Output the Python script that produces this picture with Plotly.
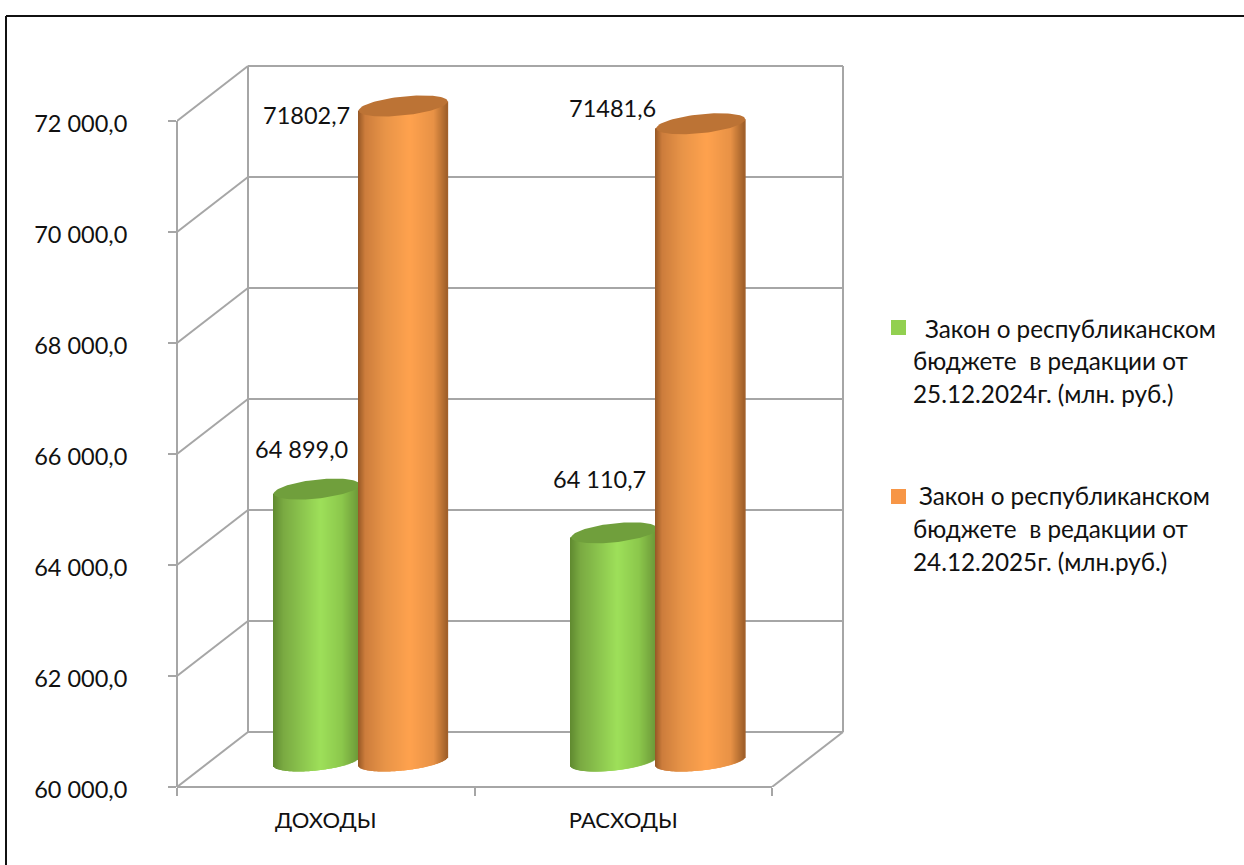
import numpy as np
import plotly.graph_objects as go

categories = ["ДОХОДЫ", "РАСХОДЫ"]
values_2024 = [64899.0, 64110.7]
values_2025 = [71802.7, 71481.6]
labels_2024 = ["64 899,0", "64 110,7"]
labels_2025 = ["71802,7", "71481,6"]
y_ticks = [60000, 62000, 64000, 66000, 68000, 70000, 72000]
y_tick_labels = ["60 000,0", "62 000,0", "64 000,0", "66 000,0", "68 000,0", "70 000,0", "72 000,0"]
legend_2024 = ["Закон о республиканском", "бюджете  в редакции от", "25.12.2024г. (млн. руб.)"]
legend_2025 = ["Закон о республиканском", "бюджете  в редакции от", "24.12.2025г. (млн.руб.)"]

FONT = "Lato, 'Open Sans', sans-serif"
FS = 23.5
W, H = 1244, 865
L, R, T, B = 177, 844, 65, 787       # plot box in pixels
X_UNIT = 297.5                        # pixels per category
Y_UNIT = (787 - 121) / 12000          # pixels per value unit
X_RANGE = [0, (R - L) / X_UNIT]
Y_RANGE = [60000, 60000 + (B - T) / Y_UNIT]
GRID = "#a6a6a6"

def dx(p):
    return p / X_UNIT

def dy(p):
    return p / Y_UNIT

def px(p):
    return (p - L) / (R - L)

def py(p):
    return (B - p) / (B - T)

DEPTH_X, DEPTH_Y = dx(71), dy(55)
LIFT = dy(26)                 # the cylinders stand this far behind the front edge
FLOOR = 60000 + LIFT
SHEAR, RY = dy(4.5), dy(9.5)

def ramp(stops, t):
    pos = [s[0] for s in stops]
    return "rgb(%d,%d,%d)" % tuple(np.interp(t, pos, [s[1][i] for s in stops]) for i in range(3))

GREEN = [(0, (96, 138, 48)), (0.12, (122, 170, 66)), (0.55, (158, 224, 90)), (0.8, (140, 200, 76)), (1, (108, 152, 56))]
ORANGE = [(0, (150, 88, 38)), (0.08, (205, 125, 60)), (0.3, (232, 148, 72)), (0.58, (255, 162, 78)), (0.85, (232, 146, 70)), (1, (160, 96, 42))]

def cylinder(vals, offset_px, width_px, stops, cap, xa, ya, name):
    w = dx(width_px)
    n = int(width_px)
    xs, bases, heights, cols, widths = [], [], [], [], []
    traces = []
    for i, v in enumerate(vals):
        c = i + 0.5 + dx(offset_px)
        for k in range(n):
            u = -1 + (2 * k + 1) / n
            xs.append(c + u * w / 2)
            b = FLOOR + SHEAR * u - RY * np.sqrt(1 - u * u)
            bases.append(b)
            heights.append(v + LIFT + SHEAR * u - b)
            cols.append(ramp(stops, (u + 1) / 2))
            widths.append(w / n * 1.8)
    traces.append(go.Bar(x=xs, y=heights, base=bases, width=widths, marker=dict(color=cols, line=dict(width=0)),
                         xaxis=xa, yaxis=ya, name=name, showlegend=False, hoverinfo="skip"))
    for i, v in enumerate(vals):
        c = i + 0.5 + dx(offset_px)
        t = np.linspace(0, 2 * np.pi, 90)
        traces.append(go.Scatter(x=c + np.cos(t) * w / 2, y=v + LIFT + SHEAR * np.cos(t) + RY * np.sin(t),
                                 mode="lines", fill="toself", fillcolor=cap, line=dict(width=0),
                                 xaxis=xa, yaxis=ya, showlegend=False, hoverinfo="skip"))
    return traces

fig = go.Figure()
for tr in cylinder(values_2024, -9, 86, GREEN, "#709f3c", "x", "y", "2024"):
    fig.add_trace(tr)
for tr in cylinder(values_2025, 77.5, 89, ORANGE, "#bc7335", "x2", "y2", "2025"):
    fig.add_trace(tr)

shapes = []
def line(x0, y0, x1, y1, color=GRID, width=2):
    shapes.append(dict(type="line", xref="x", yref="y", x0=x0, y0=y0, x1=x1, y1=y1,
                       line=dict(color=color, width=width), layer="below"))

for v in y_ticks:
    line(0, v, DEPTH_X, v + DEPTH_Y)
    line(DEPTH_X, v + DEPTH_Y, 2 + DEPTH_X, v + DEPTH_Y)
line(DEPTH_X, y_ticks[0] + DEPTH_Y, DEPTH_X, y_ticks[-1] + DEPTH_Y)
line(2 + DEPTH_X, y_ticks[0] + DEPTH_Y, 2 + DEPTH_X, y_ticks[-1] + DEPTH_Y)
line(2, y_ticks[0], 2 + DEPTH_X, y_ticks[0] + DEPTH_Y)

# front axis lines in paper coordinates, so that the plot edge does not clip them
top_frac = (y_ticks[-1] - Y_RANGE[0]) / (Y_RANGE[1] - Y_RANGE[0])
right_frac = 2 / X_RANGE[1]
for x0, y0, x1, y1 in [(0, 0, 0, top_frac), (0, 0, right_frac, 0)]:
    shapes.append(dict(type="line", xref="paper", yref="paper", x0=x0, y0=y0, x1=x1, y1=y1,
                       line=dict(color=GRID, width=2), layer="below"))

# outer frame
for x0, y0, x1, y1 in [(6, 16, W, 16), (6, 16, 6, H)]:
    shapes.append(dict(type="line", xref="paper", yref="paper", x0=px(x0), y0=py(y0), x1=px(x1), y1=py(y1),
                       line=dict(color="#111111", width=2), layer="below"))
# legend keys
for y0, col in [(320, "#92d050"), (489, "#f79646")]:
    shapes.append(dict(type="rect", xref="paper", yref="paper", x0=px(891), x1=px(906), y0=py(y0), y1=py(y0 + 15),
                       fillcolor=col, line=dict(width=0)))

ann = []
def text(s, xx, yy, xref="paper", yref="paper", anchor="left", size=FS):
    ann.append(dict(text=s, x=xx, y=yy, xref=xref, yref=yref, xanchor=anchor, yanchor="middle",
                    showarrow=False, font=dict(family=FONT, size=size, color="#111111")))

for s, xp, yp in zip(legend_2024, [923, 911, 911], [328, 360, 393.5]):
    text(s, px(xp), py(yp), size=24.3)
for s, xp, yp in zip(legend_2025, [917, 911, 911], [495.5, 528.5, 561.5]):
    text(s, px(xp), py(yp), size=24.3)

# data labels, placed relative to the bar tops
for i, (s, v, ox, oy) in enumerate(zip(labels_2024, values_2024, [-24.75, -23.5], [66, 80])):
    text(s, i + 0.5 + dx(ox), v + dy(oy), "x", "y", "center")
for i, (s, v, ox, oy) in enumerate(zip(labels_2025, values_2025, [-19, -11], [17, 42])):
    text(s, i + 0.5 + dx(ox), v + dy(oy), "x", "y", "center")

fig.update_layout(
    width=W, height=H, margin=dict(l=L, r=W - R, t=T, b=H - B, pad=0),
    paper_bgcolor="white", plot_bgcolor="rgba(0,0,0,0)", barmode="overlay", showlegend=False,
    shapes=shapes, annotations=ann, font=dict(family=FONT, size=FS, color="#111111"),
    xaxis=dict(range=X_RANGE, tickvals=[0, 1, 2], showticklabels=False, ticks="outside", ticklen=8, tickwidth=1.5,
               tickcolor=GRID, showline=False, showgrid=False, zeroline=False),
    xaxis2=dict(range=X_RANGE, overlaying="x", side="bottom", tickvals=[0.5, 1.5], ticktext=categories, ticks="",
                ticklabelstandoff=18, showline=False, showgrid=False, zeroline=False,
                tickfont=dict(family=FONT, size=22, color="#111111")),
    yaxis=dict(range=Y_RANGE, tickvals=y_ticks, ticktext=y_tick_labels, ticks="outside", ticklen=8, tickwidth=1.5,
               tickcolor=GRID, showline=False, showgrid=False, zeroline=False,
               ticklabelstandoff=36, ticklabelshift=3, tickfont=dict(family=FONT, size=FS, color="#111111")),
    yaxis2=dict(range=Y_RANGE, overlaying="y", visible=False),
)

fig.write_html("out.html", config={"displayModeBar": False},
               post_script="document.body.style.margin='0';document.body.style.overflow='hidden';")
